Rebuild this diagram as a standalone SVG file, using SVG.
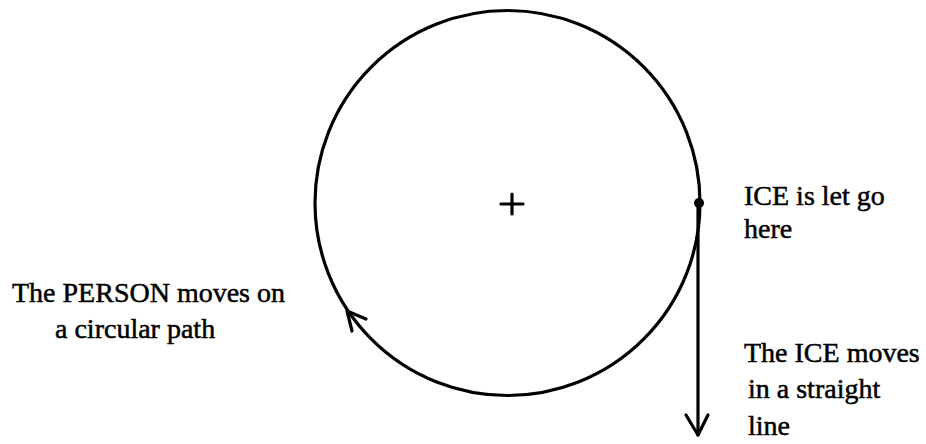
<svg xmlns="http://www.w3.org/2000/svg" width="926" height="444" viewBox="0 0 926 444">
<style>
.ln{fill:none;stroke:#000;stroke-width:3.2;stroke-linecap:round;stroke-linejoin:round}
.t{font-family:"Liberation Serif","Times New Roman",serif;font-size:28px;fill:#000;stroke:#000;stroke-width:0.5}
</style>
<rect width="926" height="444" fill="#fff"/>
<g id="circle-path">
<circle class="ln" cx="507.5" cy="203" r="192.5"/>
</g>
<g id="center">
<path class="ln" d="M501 204 H523 M512 194 V214"/>
</g>
<g id="release-point">
<circle cx="699" cy="203" r="5" fill="#000"/>
</g>
<g id="connectors">
<path class="ln" d="M698 203 V435"/>
<path class="ln" d="M686 415 L698 435 L708 415"/>
<path class="ln" d="M352 331 L347 311 L366 319"/>
</g>
<g id="label-ice-release">
<text class="t" x="744" y="205">ICE is let go</text>
<text class="t" x="744" y="238">here</text>
</g>
<g id="label-person">
<text class="t" x="12" y="302">The PERSON moves on</text>
<text class="t" x="55" y="338">a circular path</text>
</g>
<g id="label-ice-moves">
<text class="t" x="744" y="362">The ICE moves</text>
<text class="t" x="748" y="398">in a straight</text>
<text class="t" x="748" y="435">line</text>
</g>
</svg>
